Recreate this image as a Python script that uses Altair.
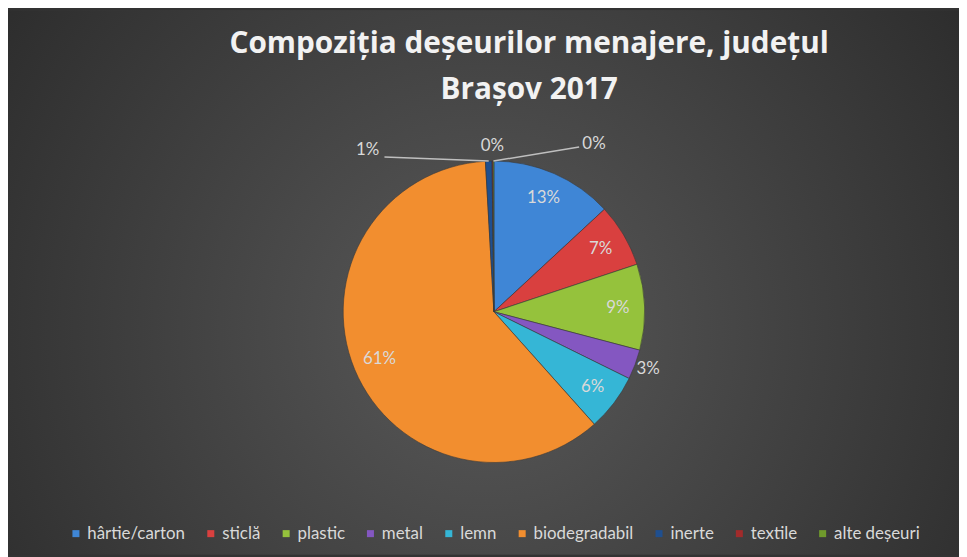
import math
import altair as alt
import pandas as pd

# ---- data ----
categories = ["hârtie/carton", "sticlă", "plastic", "metal", "lemn",
              "biodegradabil", "inerte", "textile", "alte deșeuri"]
values = [13.1, 6.8, 9.2, 3.2, 6.1, 60.7, 0.7, 0.1, 0.1]
colors = ["#3f86d6", "#d9403f", "#95c23c", "#8457c1", "#35b6d6",
          "#f28e2f", "#1f4f8f", "#a12b2b", "#6f9a2c"]
title_lines = ["Compoziția deșeurilor menajere, județul", "Brașov 2017"]

# ---- layout / style constants ----
W, H = 959, 549
CX, CY, R = 490, 304, 152
R_IN, R_OUT = 125, 166
TINY_SPREAD = [-36, 0, 31]      # degrees, label spread for near-zero slices
TINY_RAD = [207, 167, 197]
FONT = "Lato"
LABEL_COLOR = "#d9d9d9"

total = sum(values)
pcts = [v / total * 100 for v in values]

rows, tiny_rows, line_rows = [], [], []
cum = 0.0
k = 0
for i, (c, v, p) in enumerate(zip(categories, values, pcts)):
    mid = (cum + v / 2) / total * 360.0
    cum += v
    lab = f"{round(p)}%"
    lab_in = lab if p >= 5 else ""
    lab_out = lab if 1.5 <= p < 5 else ""
    if p < 1.5:
        la = mid + TINY_SPREAD[k]
        rr = TINY_RAD[k]
        lx = CX + rr * math.sin(math.radians(la))
        ly = CY - rr * math.cos(math.radians(la))
        tiny_rows.append({"cat": c, "lx": lx, "ly": ly, "lab": lab})
        if k != 1:
            sx = CX + R * math.sin(math.radians(mid))
            sy = CY - R * math.cos(math.radians(mid))
            ex = lx + (17 if k == 0 else -15)
            ey = ly + (7 if k == 0 else 3)
            line_rows.append({"cat": c, "px": sx, "py": sy, "o": 0})
            line_rows.append({"cat": c, "px": ex, "py": ey, "o": 1})
        k += 1
    rows.append({"cat": c, "value": v, "idx": i,
                 "lab_in": lab_in, "lab_out": lab_out})

df = pd.DataFrame(rows)
df_tiny = pd.DataFrame(tiny_rows)
df_lines = pd.DataFrame(line_rows)

bg = alt.Chart(alt.Data(values=[{"a": 1}])).mark_rect(
    fill=alt.RadialGradient(
        gradient="radial",
        stops=[alt.GradientStop(offset=0, color="#595959"),
               alt.GradientStop(offset=1, color="#252525")],
        x1=0.5, y1=0.55, x2=0.5, y2=0.55, r1=0, r2=0.72,
    )
).encode(x=alt.value(0), x2=alt.value(W), y=alt.value(0), y2=alt.value(H))

theta = alt.Theta("value:Q", stack=True)
order = alt.Order("idx:Q")

arcs = alt.Chart(df).mark_arc(radius=R, stroke="#3a3a3a", strokeWidth=0.6).encode(
    theta=theta,
    color=alt.Color(
        "cat:N",
        scale=alt.Scale(domain=categories, range=colors),
        sort=categories,
        legend=alt.Legend(
            orient="none", legendX=60, legendY=519, direction="horizontal",
            columns=9, title=None, symbolType="square", symbolSize=50,
            symbolStrokeWidth=0, labelFont=FONT, labelFontSize=17,
            labelColor=LABEL_COLOR, columnPadding=17, labelOffset=3,
        ),
    ),
    order=order,
    x=alt.value(CX),
    y=alt.value(CY),
)

text_style = dict(font=FONT, fontSize=17, color=LABEL_COLOR,
                  baseline="middle", align="center")

labels_in = alt.Chart(df).mark_text(radius=R_IN, **text_style).encode(
    theta=theta, order=order, text="lab_in:N",
    x=alt.value(CX), y=alt.value(CY),
)
labels_out = alt.Chart(df).mark_text(radius=R_OUT, **text_style).encode(
    theta=theta, order=order, text="lab_out:N",
    x=alt.value(CX), y=alt.value(CY),
)

leaders = alt.Chart(df_lines).mark_line(color="#bfbfbf", strokeWidth=1.5).encode(
    x=alt.X("px:Q", scale=None, axis=None),
    y=alt.Y("py:Q", scale=None, axis=None),
    detail="cat:N",
    order="o:Q",
)

tiny_labels = alt.Chart(df_tiny).mark_text(**text_style).encode(
    x=alt.X("lx:Q", scale=None, axis=None),
    y=alt.Y("ly:Q", scale=None, axis=None),
    text="lab:N",
)

chart = alt.layer(bg, arcs, labels_in, labels_out, leaders, tiny_labels).properties(
    width=W, height=H, padding=0,
    autosize=alt.AutoSizeParams(type="none"),
    background="#333333",
    title=alt.TitleParams(
        text=title_lines, font="Open Sans", fontSize=30, fontWeight="bold",
        color="#f2f2f2", anchor="middle", baseline="alphabetic",
        offset=-119, lineHeight=46, dx=46,
    ),
).configure_view(stroke=None)

chart.save("out.html", embed_options={"renderer": "svg", "actions": False})
